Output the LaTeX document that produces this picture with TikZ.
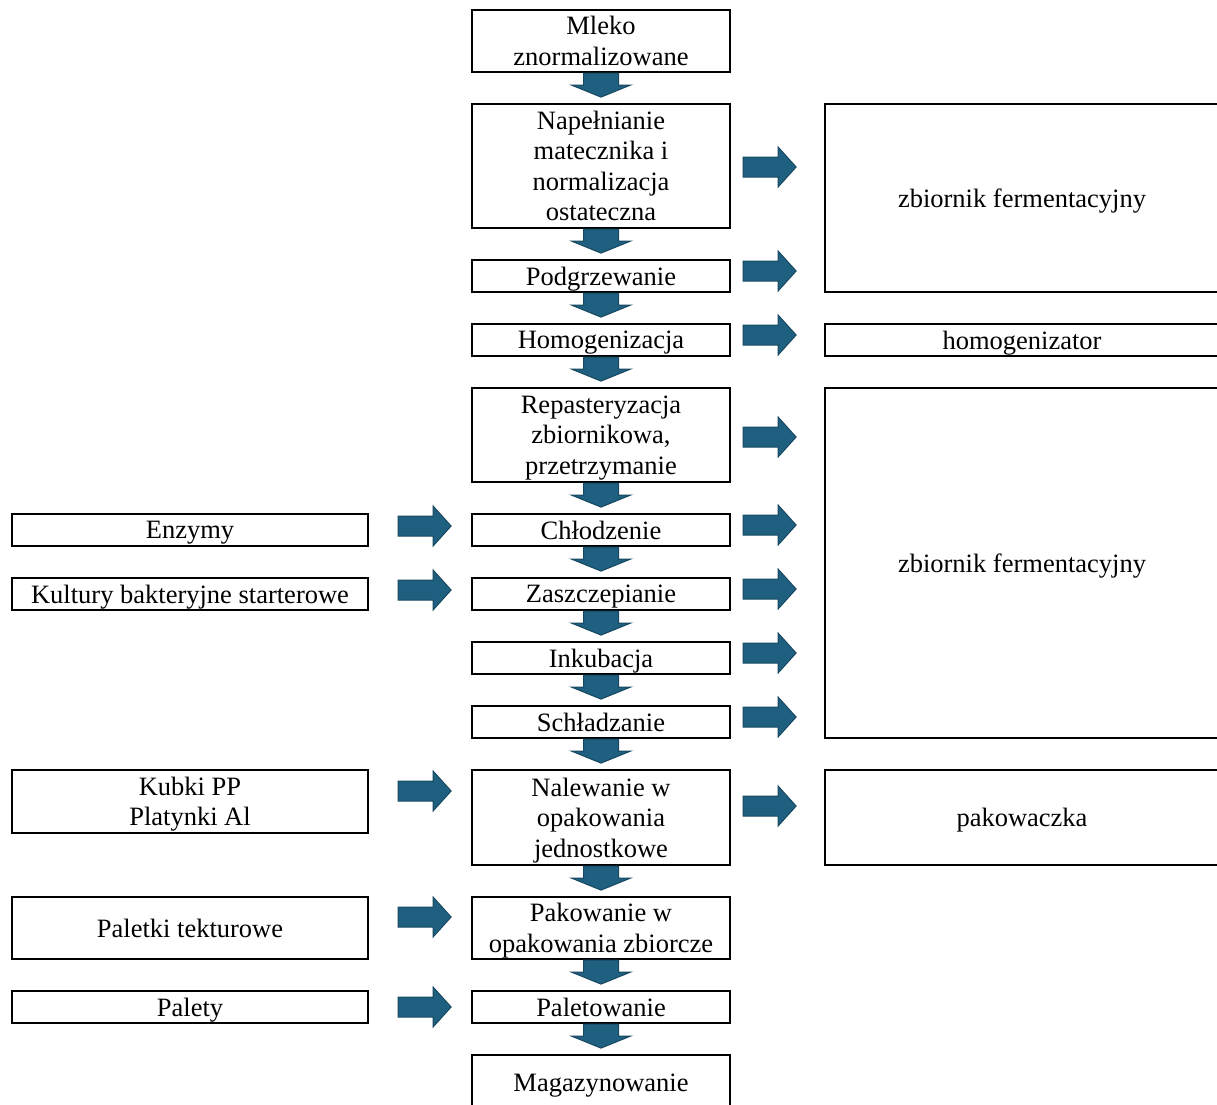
\documentclass[tikz,border=0pt]{standalone}
\usepackage{fontspec}
\setmainfont{Liberation Serif}
\usetikzlibrary{calc}
\definecolor{arrfill}{RGB}{31,96,128}
\definecolor{arrline}{RGB}{24,72,97}
\tikzset{
  box/.style={draw=black, line width=2.2pt, rectangle, inner sep=0pt, align=center,
    text depth=0pt, font=\fontsize{26.5}{30.5}\selectfont},
  midbox/.style={box, minimum width=258},
  leftbox/.style={box, minimum width=356},
  rightbox/.style={box, minimum width=394},
  blockarrow/.style={fill=arrfill, draw=arrline, line width=1pt, line join=miter},
  pics/darrow/.style={code={
    \filldraw[blockarrow] (-17.5,0) -- (17.5,0) -- (17.5,12) -- (29.5,12) -- (0,24)
      -- (-29.5,12) -- (-17.5,12) -- cycle;}},
  pics/rarrow/.style={code={
    \filldraw[blockarrow] (0,-10) -- (35,-10) -- (35,-20) -- (53,0) -- (35,20)
      -- (35,10) -- (0,10) -- cycle;}}
}
\begin{document}
\begin{tikzpicture}[x=1pt, y=-1pt]
\useasboundingbox (0,0) rectangle (1217,1104);
\clip (0,0) rectangle (1217,1104);

% main process column
\node[midbox, minimum height=62]  (mle) at (601,41)    {Mleko\\znormalizowane};
\node[midbox, minimum height=124] (nap) at (601,166)   {Napełnianie\\matecznika i\\normalizacja\\ostateczna};
\node[midbox, minimum height=32]  (pod) at (601,276)   {Podgrzewanie};
\node[midbox, minimum height=32]  (hom) at (601,340)   {Homogenizacja};
\node[midbox, minimum height=94]  (rep) at (601,435)   {Repasteryzacja\\zbiornikowa,\\przetrzymanie};
\node[midbox, minimum height=32]  (chl) at (601,530)   {Chłodzenie};
\node[midbox, minimum height=32]  (zas) at (601,594)   {Zaszczepianie};
\node[midbox, minimum height=32]  (ink) at (601,658)   {Inkubacja};
\node[midbox, minimum height=32]  (sch) at (601,722)   {Schładzanie};
\node[midbox, minimum height=95]  (nal) at (601,817.5) {Nalewanie w\\opakowania\\jednostkowe};
\node[midbox, minimum height=62]  (pak) at (601,928)   {Pakowanie w\\opakowania zbiorcze};
\node[midbox, minimum height=32]  (pal) at (601,1007)  {Paletowanie};
\node[midbox, minimum height=56]  (mag) at (601,1083)  {Magazynowanie};

% materials column
\node[leftbox, minimum height=32] (enz) at (190,530)   {Enzymy};
\node[leftbox, minimum height=32] (kul) at (190,594)   {Kultury bakteryjne starterowe};
\node[leftbox, minimum height=63] (kub) at (190,801.5) {Kubki PP\\Platynki Al};
\node[leftbox, minimum height=62] (pap) at (190,928)   {Paletki tekturowe};
\node[leftbox, minimum height=32] (plt) at (190,1007)  {Palety};

% equipment column
\node[rightbox, minimum height=188] (zb1) at (1022,198)   {zbiornik fermentacyjny};
\node[rightbox, minimum height=32]  (hmg) at (1022,340)   {homogenizator};
\node[rightbox, minimum height=350] (zb2) at (1022,563)   {zbiornik fermentacyjny};
\node[rightbox, minimum height=95]  (pkw) at (1022,817.5) {pakowaczka};

% flow arrows between process steps
\foreach \a in {mle,nap,pod,hom,rep,chl,zas,ink,sch,nal,pak,pal}
  \pic at (\a.south) {darrow};

% arrows towards equipment
\foreach \a/\dy in {nap/1,pod/-5,hom/-5,rep/2,chl/-5,zas/-5,ink/-5,sch/-5,nal/-11.5}
  \pic at ($(\a.east)+(12,\dy)$) {rarrow};

% arrows from materials
\foreach \a/\dy in {enz/-4,kul/-4,kub/-10.5,pap/-11,plt/0}
  \pic at ($(\a.east)+(29,\dy)$) {rarrow};
\end{tikzpicture}
\end{document}
